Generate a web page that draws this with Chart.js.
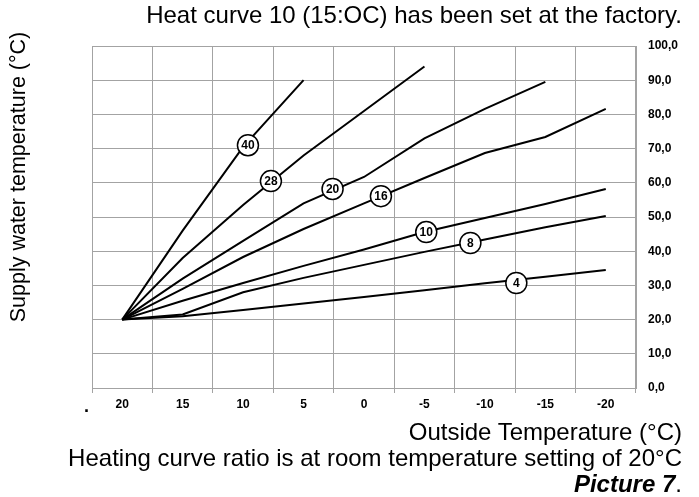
<!DOCTYPE html>
<html>
<head>
<meta charset="utf-8">
<script src="https://cdn.jsdelivr.net/npm/chart.js@4.4.1/dist/chart.umd.min.js"></script>
<style>
  html, body { margin: 0; padding: 0; background: #fff; }
  #wrap { position: relative; width: 699px; height: 497px; overflow: hidden; font-family: "Liberation Sans", Arial, sans-serif; color: #000; }
  #myChart { position: absolute; left: 0; top: 0; }
  .txt { position: absolute; white-space: nowrap; font-size: 24px; line-height: 24px; }
  .right { right: 17px; text-align: right; }
  #ytitle { left: -132px; top: 165px; width: 300px; text-align: center; font-size: 21.5px; transform: rotate(-90deg); }
</style>
</head>
<body>
<div id="wrap">
  <canvas id="myChart" width="699" height="497"></canvas>
  <div class="txt right" style="top:3px">Heat curve 10 (15:OC) has been set at the factory.</div>
  <div class="txt" id="ytitle">Supply water temperature (°C)</div>
  <div class="txt right" style="top:420px">Outside Temperature (°C)</div>
  <div class="txt right" style="top:446px">Heating curve ratio is at room temperature setting of 20°C</div>
  <div class="txt right" style="top:472px"><b><i>Picture 7</i></b>.</div>
  <div class="txt" style="left:84px;top:394px;font-size:18px;font-weight:bold">.</div>
</div>
<script>
// outside temperatures (°C) on the x axis
const temps = [20, 15, 10, 5, 0, -5, -10, -15, -20];

// supply water temperature for each heat curve, read at the temps above
const curve40 = [20, 46, 70.5, 90];
const curve28 = [20, 38, 53.5, 68, 81, 94];
const curve20 = [20, 32, 43, 54, 61.7, 73, 81.6, 89.5];
const curve16 = [20, 29, 38.3, 46.5, 54, 61.4, 68.7, 73.4, 81.6];
const curve10 = [20, 25.5, 30.7, 35.7, 40.5, 45.6, 49.7, 53.8, 58.2];
const curve8 = [20, 21.5, 28, 32.2, 36, 39.8, 43.4, 47, 50.3];
const curve4 = [20, 21, 22.8, 24.7, 26.6, 28.6, 30.6, 32.5, 34.5];

// curve number badges and where they sit
const curveNames = ['40', '28', '20', '16', '10', '8', '4'];
const labelTemps = [9.6, 7.7, 2.6, -1.4, -5.15, -8.8, -12.6];
const labelValues = [71, 60.5, 58.2, 56.1, 45.6, 42.4, 30.7];

const yTicks = [0, 10, 20, 30, 40, 50, 60, 70, 80, 90, 100];

const curves = [curve40, curve28, curve20, curve16, curve10, curve8, curve4];
const gridColor = '#a3a3a3';
const tickFont = { family: '"Liberation Sans", Arial, sans-serif', size: 12, weight: 'bold' };

const lineSets = curves.map((vals, i) => ({
  type: 'line',
  label: curveNames[i],
  data: vals.map((v, j) => ({ x: temps[j], y: v })),
  borderColor: '#000',
  borderWidth: 2,
  pointRadius: 0,
  tension: 0,
  fill: false
}));

const badgeSet = {
  type: 'scatter',
  label: 'badges',
  data: labelTemps.map((t, i) => ({ x: t, y: labelValues[i] })),
  pointRadius: 10.5,
  pointBackgroundColor: '#fff',
  pointBorderColor: '#000',
  pointBorderWidth: 1.5,
  order: -1
};

// writes the curve number inside each badge
const badgeText = {
  id: 'badgeText',
  afterDatasetsDraw(chart) {
    const meta = chart.getDatasetMeta(0);
    const c = chart.ctx;
    c.save();
    c.font = 'bold 12px "Liberation Sans", Arial, sans-serif';
    c.fillStyle = '#000';
    c.textAlign = 'center';
    c.textBaseline = 'middle';
    meta.data.forEach((pt, i) => {
      c.fillText(curveNames[i], pt.x, pt.y + 0.5);
    });
    c.restore();
  }
};

const myChart = new Chart(document.getElementById('myChart'), {
  type: 'line',
  data: { datasets: [badgeSet, ...lineSets] },
  options: {
    responsive: false,
    animation: false,
    devicePixelRatio: 1,
    layout: { padding: { left: 92, top: 46, right: 8, bottom: 79 } },
    plugins: {
      legend: { display: false },
      tooltip: { enabled: false }
    },
    scales: {
      x: {
        type: 'linear',
        reverse: true,
        min: -22.5,
        max: 22.5,
        afterBuildTicks: (scale) => { scale.ticks = temps.map(v => ({ value: v })); },
        afterFit: (scale) => { scale.height = 30; },
        grid: { offset: true, color: gridColor, tickLength: 5, lineWidth: 1 },
        border: { color: gridColor },
        ticks: {
          autoSkip: false,
          maxRotation: 0,
          padding: 4,
          color: '#000',
          font: tickFont,
          callback: (v) => String(v)
        }
      },
      y: {
        position: 'right',
        min: 0,
        max: 100,
        afterBuildTicks: (scale) => { scale.ticks = yTicks.map(v => ({ value: v })); },
        afterFit: (scale) => { scale.width = 55; },
        grid: { drawTicks: false, color: gridColor, lineWidth: 1 },
        border: { color: gridColor },
        ticks: {
          padding: 12,
          color: '#000',
          font: tickFont,
          callback: (v) => v.toFixed(1).replace('.', ',')
        }
      }
    }
  },
  plugins: [badgeText]
});
</script>
</body>
</html>
